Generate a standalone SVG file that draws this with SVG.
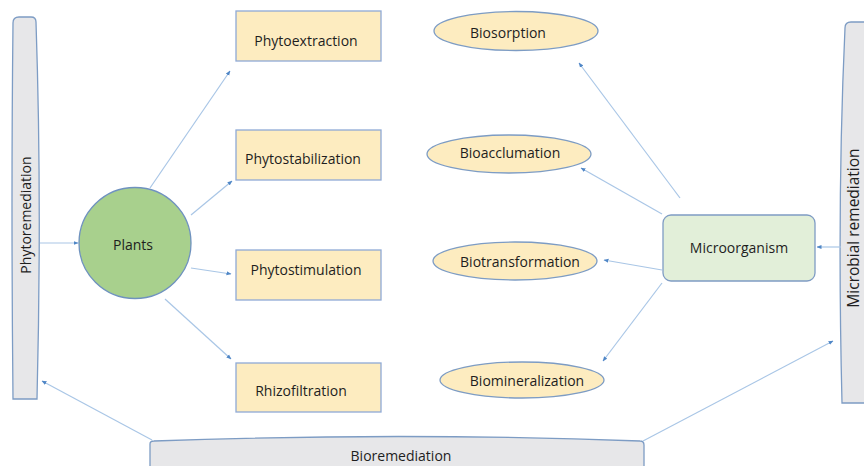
<svg xmlns="http://www.w3.org/2000/svg" width="864" height="466" viewBox="0 0 864 466">
<defs>
<marker id="ah" viewBox="0 0 10 10" refX="9" refY="5" markerWidth="5" markerHeight="5" orient="auto" markerUnits="userSpaceOnUse">
<path d="M0,1 L10,5 L0,9 Z" fill="#4f86c6"/>
</marker>
<style>
text{font-family:"Open Sans","Liberation Sans",sans-serif;font-size:14px;fill:#1e1e1e;text-anchor:middle;dominant-baseline:central}
.bar{fill:#e7e7e9;stroke:#7d9cc4;stroke-width:1.3}
.box{fill:#fdecc0;stroke:#8faad6;stroke-width:1.3}
.ell{fill:#fdecc0;stroke:#7d9cc4;stroke-width:1.3}
.conn line{stroke:#a9c6e6;stroke-width:1.2;marker-end:url(#ah)}
</style>
</defs>
<rect width="864" height="466" fill="#ffffff"/>

<g id="phytoremediation">
<path class="bar" d="M13,23 Q13,17 19,17 L31,17 Q36,17 36,22 Q42,200 37,399 L13,399 Q11,200 13,23 Z"/>
<text x="25" y="215" transform="rotate(-90 25 215)">Phytoremediation</text>
</g>

<g id="microbial-remediation">
<path class="bar" d="M845,28 Q845,22 851,22 L870,22 L870,403 L842,403 Q837,200 845,28 Z"/>
<text x="853" y="228" transform="rotate(-90 853 228)" style="font-size:15.5px">Microbial remediation</text>
</g>

<g id="bioremediation">
<path class="bar" d="M150,444 Q150,441 154,441 Q400,432 640,441 Q644,441 644,445 L644,470 L150,470 Z"/>
<text x="401" y="455">Bioremediation</text>
</g>

<g id="plants">
<ellipse cx="135" cy="243" rx="56" ry="55.5" fill="#a8d08d" stroke="#6f92bf" stroke-width="1.3"/>
<text x="133" y="244">Plants</text>
</g>

<g id="phytoextraction">
<rect class="box" x="236" y="11" width="145" height="50"/>
<text x="306" y="40">Phytoextraction</text>
</g>
<g id="phytostabilization">
<rect class="box" x="236" y="130" width="145" height="50"/>
<text x="303" y="158">Phytostabilization</text>
</g>
<g id="phytostimulation">
<rect class="box" x="236" y="250" width="145" height="50"/>
<text x="306" y="269">Phytostimulation</text>
</g>
<g id="rhizofiltration">
<rect class="box" x="236" y="363" width="145" height="49"/>
<text x="301" y="390">Rhizofiltration</text>
</g>

<g id="biosorption">
<ellipse class="ell" cx="516" cy="31" rx="82" ry="19.5"/>
<text x="508" y="32">Biosorption</text>
</g>
<g id="bioacclumation">
<ellipse class="ell" cx="509" cy="154" rx="82" ry="19"/>
<text x="510" y="152">Bioacclumation</text>
</g>
<g id="biotransformation">
<ellipse class="ell" cx="515" cy="261" rx="82" ry="19"/>
<text x="520" y="261">Biotransformation</text>
</g>
<g id="biomineralization">
<ellipse class="ell" cx="522" cy="380" rx="82" ry="18"/>
<text x="527" y="380">Biomineralization</text>
</g>

<g id="microorganism">
<rect x="663" y="215" width="152" height="66" rx="8" fill="#e2efd9" stroke="#7f9cc4" stroke-width="1.3"/>
<text x="739" y="247">Microorganism</text>
</g>

<g id="connectors" class="conn">
<line x1="150" y1="188" x2="230" y2="71"/>
<line x1="191" y1="215" x2="232" y2="181"/>
<line x1="191" y1="268" x2="231" y2="274"/>
<line x1="165" y1="299" x2="231" y2="359"/>
<line x1="40" y1="243" x2="78" y2="243"/>
<line x1="152" y1="440" x2="42" y2="381"/>
<line x1="643" y1="441" x2="833" y2="341"/>
<line x1="841" y1="247" x2="817" y2="247"/>
<line x1="680" y1="198" x2="579" y2="63"/>
<line x1="662" y1="214" x2="581" y2="168"/>
<line x1="662" y1="270" x2="604" y2="260"/>
<line x1="662" y1="283" x2="603" y2="361"/>
</g>
</svg>
